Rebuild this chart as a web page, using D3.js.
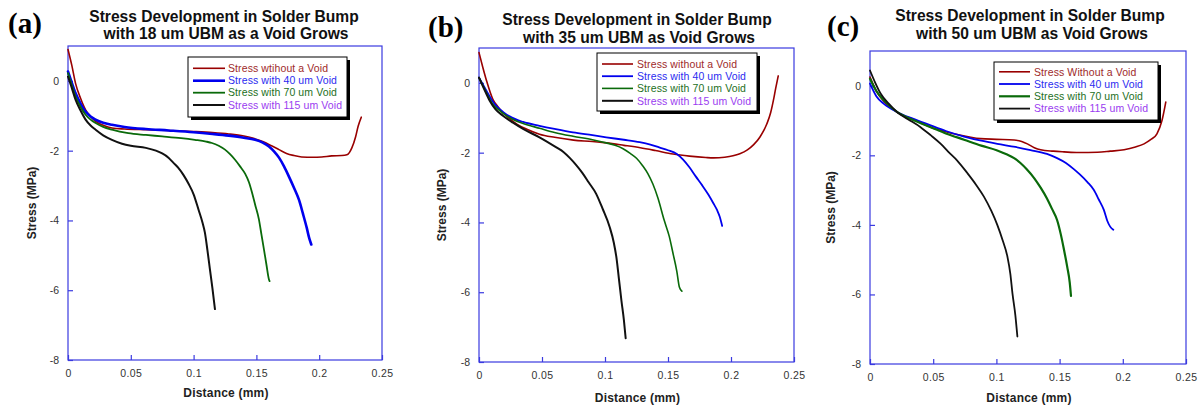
<!DOCTYPE html>
<html><head><meta charset="utf-8">
<script src="https://cdn.jsdelivr.net/npm/d3@7"></script>
<style>html,body{margin:0;padding:0;background:#fff;}svg{display:block;}</style>
</head><body>
<script>
// ---------- DATA ----------
const xTicks = [0, 0.05, 0.1, 0.15, 0.2, 0.25];
const yTicks = [-8, -6, -4, -2, 0];
const xDomain = [0, 0.25];
const yDomain = [-8, 1];
const panelLabels = ["(a)", "(b)", "(c)"];
const titleLine1 = ["Stress Development in Solder Bump", "Stress Development in Solder Bump", "Stress Development in Solder Bump"];
const titleLine2 = ["with 18 um UBM as a Void Grows", "with 35 um UBM as Void Grows", "with 50 um UBM as Void Grows"];
const xLabel = "Distance (mm)";
const yLabel = "Stress (MPa)";
const legendA = ["Stress wtihout a Void", "Stress with 40 um Void", "Stress with 70 um Void", "Stress with 115 um Void"];
const legendB = ["Stress without a Void", "Stress with 40 um Void", "Stress with 70 um Void", "Stress with 115 um Void"];
const legendC = ["Stress Without a Void", "Stress with 40 um Void", "Stress with 70 um Void", "Stress with 115 um Void"];

// Panel (a): 18 um UBM
const aNoVoid = [[0,0.9],[0.003,0.45],[0.006,-0.07],[0.01,-0.5],[0.014,-0.83],[0.018,-1.02],[0.022,-1.16],[0.028,-1.27],[0.035,-1.35],[0.045,-1.38],[0.062,-1.40],[0.08,-1.42],[0.1,-1.45],[0.115,-1.48],[0.128,-1.52],[0.14,-1.58],[0.147,-1.64],[0.155,-1.74],[0.162,-1.86],[0.168,-1.97],[0.174,-2.08],[0.18,-2.14],[0.186,-2.18],[0.195,-2.19],[0.202,-2.18],[0.21,-2.15],[0.218,-2.14],[0.222,-2.12],[0.226,-1.92],[0.229,-1.6],[0.231,-1.3],[0.2335,-1.04]];
const aVoid40 = [[0,0.27],[0.003,-0.05],[0.006,-0.35],[0.01,-0.65],[0.014,-0.88],[0.018,-1.02],[0.022,-1.11],[0.028,-1.2],[0.035,-1.26],[0.045,-1.32],[0.062,-1.38],[0.08,-1.42],[0.1,-1.47],[0.115,-1.52],[0.128,-1.57],[0.14,-1.63],[0.149,-1.69],[0.155,-1.77],[0.16,-1.88],[0.164,-2.02],[0.168,-2.2],[0.172,-2.45],[0.176,-2.75],[0.18,-3.07],[0.184,-3.42],[0.187,-3.8],[0.19,-4.2],[0.192,-4.5],[0.1937,-4.69]];
const aVoid70 = [[0,0.22],[0.003,-0.12],[0.006,-0.45],[0.01,-0.75],[0.014,-0.97],[0.018,-1.11],[0.022,-1.21],[0.028,-1.32],[0.035,-1.40],[0.048,-1.50],[0.062,-1.55],[0.075,-1.59],[0.09,-1.64],[0.101,-1.69],[0.11,-1.74],[0.1146,-1.78],[0.12,-1.86],[0.125,-1.97],[0.129,-2.1],[0.133,-2.26],[0.137,-2.45],[0.141,-2.66],[0.144,-2.9],[0.1465,-3.2],[0.149,-3.55],[0.152,-3.97],[0.154,-4.4],[0.156,-4.83],[0.158,-5.27],[0.16,-5.69],[0.1605,-5.74]];
const aVoid115 = [[0,0.12],[0.003,-0.2],[0.006,-0.54],[0.01,-0.85],[0.014,-1.11],[0.018,-1.28],[0.022,-1.40],[0.028,-1.56],[0.035,-1.69],[0.043,-1.80],[0.05,-1.86],[0.062,-1.92],[0.07,-2.0],[0.075,-2.08],[0.08,-2.2],[0.084,-2.35],[0.088,-2.5],[0.092,-2.7],[0.096,-2.95],[0.1,-3.25],[0.104,-3.7],[0.107,-4.05],[0.109,-4.35],[0.111,-4.85],[0.113,-5.4],[0.115,-5.95],[0.117,-6.54]];

// Panel (b): 35 um UBM
const bNoVoid = [[0,0.87],[0.003,0.45],[0.006,0.06],[0.011,-0.47],[0.015,-0.68],[0.019,-0.85],[0.024,-1.02],[0.03,-1.18],[0.038,-1.33],[0.048,-1.47],[0.06,-1.56],[0.075,-1.64],[0.09,-1.68],[0.101,-1.72],[0.115,-1.79],[0.128,-1.86],[0.14,-1.94],[0.154,-2.04],[0.167,-2.1],[0.18,-2.14],[0.186,-2.15],[0.195,-2.13],[0.2016,-2.09],[0.207,-2.03],[0.213,-1.92],[0.218,-1.77],[0.223,-1.55],[0.2284,-1.18],[0.2315,-0.85],[0.2336,-0.51],[0.2355,-0.15],[0.2375,0.2]];
const bVoid40 = [[0,0.15],[0.003,-0.04],[0.006,-0.23],[0.01,-0.48],[0.0137,-0.66],[0.019,-0.83],[0.0243,-0.96],[0.035,-1.12],[0.048,-1.23],[0.06,-1.32],[0.0746,-1.42],[0.09,-1.5],[0.101,-1.56],[0.115,-1.63],[0.1275,-1.70],[0.136,-1.77],[0.143,-1.85],[0.15,-1.93],[0.157,-2.04],[0.162,-2.2],[0.167,-2.42],[0.172,-2.68],[0.177,-2.93],[0.182,-3.2],[0.186,-3.45],[0.189,-3.65],[0.191,-3.83],[0.193,-4.1]];
const bVoid70 = [[0,0.15],[0.003,-0.07],[0.006,-0.29],[0.011,-0.61],[0.016,-0.78],[0.0217,-0.94],[0.03,-1.1],[0.038,-1.2],[0.048,-1.30],[0.06,-1.42],[0.0746,-1.53],[0.09,-1.63],[0.101,-1.72],[0.108,-1.79],[0.114,-1.88],[0.12,-2.02],[0.125,-2.16],[0.13,-2.38],[0.134,-2.6],[0.138,-2.9],[0.142,-3.3],[0.147,-3.94],[0.151,-4.4],[0.154,-4.89],[0.157,-5.4],[0.159,-5.85],[0.161,-5.97]];
const bVoid115 = [[0,0.15],[0.004,-0.17],[0.0085,-0.51],[0.013,-0.75],[0.019,-0.94],[0.027,-1.14],[0.035,-1.32],[0.048,-1.56],[0.0614,-1.85],[0.067,-1.98],[0.072,-2.15],[0.077,-2.35],[0.082,-2.58],[0.087,-2.85],[0.093,-3.18],[0.098,-3.6],[0.1037,-4.13],[0.107,-4.58],[0.109,-4.99],[0.111,-5.6],[0.113,-6.23],[0.115,-6.8],[0.1164,-7.32]];

// Panel (c): 50 um UBM
const cNoVoid = [[0,0.25],[0.005,-0.15],[0.011,-0.45],[0.0216,-0.76],[0.035,-0.98],[0.048,-1.19],[0.06,-1.32],[0.069,-1.40],[0.0876,-1.52],[0.1,-1.54],[0.114,-1.56],[0.12,-1.6],[0.1245,-1.67],[0.13,-1.78],[0.135,-1.84],[0.145,-1.88],[0.1535,-1.9],[0.165,-1.92],[0.18,-1.91],[0.19,-1.88],[0.201,-1.84],[0.21,-1.76],[0.2168,-1.67],[0.222,-1.55],[0.227,-1.38],[0.231,-1.0],[0.234,-0.47]];
const cVoid40 = [[0,0.06],[0.005,-0.3],[0.011,-0.52],[0.0216,-0.76],[0.035,-0.96],[0.048,-1.14],[0.06,-1.3],[0.0744,-1.46],[0.088,-1.58],[0.1007,-1.67],[0.115,-1.76],[0.127,-1.85],[0.14,-1.96],[0.148,-2.08],[0.155,-2.22],[0.161,-2.39],[0.166,-2.55],[0.172,-2.77],[0.177,-2.99],[0.181,-3.27],[0.185,-3.57],[0.1877,-3.88],[0.19,-4.05],[0.1925,-4.14]];
const cVoid70 = [[0,0.2],[0.005,-0.15],[0.011,-0.42],[0.0216,-0.76],[0.035,-1.0],[0.048,-1.19],[0.06,-1.37],[0.0744,-1.55],[0.088,-1.72],[0.1007,-1.86],[0.108,-1.97],[0.114,-2.08],[0.119,-2.22],[0.124,-2.4],[0.13,-2.66],[0.135,-2.93],[0.14,-3.24],[0.144,-3.54],[0.148,-3.86],[0.151,-4.28],[0.1535,-4.72],[0.156,-5.2],[0.158,-5.65],[0.159,-6.04]];
const cVoid115 = [[0,0.44],[0.004,0.1],[0.0085,-0.23],[0.015,-0.52],[0.0216,-0.76],[0.03,-0.96],[0.04,-1.19],[0.048,-1.42],[0.056,-1.67],[0.062,-1.9],[0.069,-2.15],[0.077,-2.51],[0.084,-2.85],[0.09,-3.18],[0.096,-3.6],[0.1007,-4.0],[0.105,-4.45],[0.1087,-4.91],[0.111,-5.4],[0.1127,-5.97],[0.115,-6.6],[0.1166,-7.21]];

// ---------- STYLE / LAYOUT ----------
const lineColors = ["#990000", "#0000ee", "#0a6a0a", "#111111"];
const textColors = ["#9e2a2a", "#2b2bf0", "#237023", "#9a3cf0"];
const W = 1201, H = 406;

const panels = [
  {series:[aNoVoid,aVoid40,aVoid70,aVoid115], legend:legendA, widths:[1.6,2.6,1.8,2],
   L:68, R:382, T:46, B:360, labelX:8, labelY:33, titleX:224, t1:22, t2:39,
   yLabX:32, xLabY:397, lg:{x0:188, x1:347, y0:57, y1:117, rows:[68.3,80.7,92.7,105], lx0:193, lx1:225, tx:228}},
  {series:[bNoVoid,bVoid40,bVoid70,bVoid115], legend:legendB, widths:[1.6,1.8,1.6,2],
   L:479, R:794, T:48, B:362, labelX:428, labelY:37, titleX:637, t1:25, t2:43,
   yLabX:442, xLabY:402, lg:{x0:597, x1:757, y0:53, y1:111, rows:[64,76.2,88.4,100.8], lx0:602, lx1:633, tx:637}},
  {series:[cNoVoid,cVoid40,cVoid70,cVoid115], legend:legendC, widths:[1.6,1.8,2.2,1.8],
   L:870, R:1186, T:51, B:364, labelX:827, labelY:36, titleX:1030, t1:21, t2:39,
   yLabX:831, xLabY:402, lg:{x0:994, x1:1158, y0:62, y1:120, rows:[71.8,84,96.3,108.6], lx0:999, lx1:1030, tx:1034}}
];

const frameColor = "#3a3ae0";
const svg = d3.select("body").append("svg").attr("width", W).attr("height", H);
svg.append("rect").attr("width", W).attr("height", H).attr("fill", "#fff");

panels.forEach((p, i) => {
  const g = svg.append("g");
  const x = d3.scaleLinear().domain(xDomain).range([p.L, p.R]);
  const y = d3.scaleLinear().domain(yDomain).range([p.B, p.T]);

  // panel letter
  g.append("text").attr("x", p.labelX).attr("y", p.labelY)
    .attr("font-family", "'Liberation Serif','Times New Roman',serif").attr("font-weight", "bold")
    .attr("font-size", 29).attr("fill", "#000").text(panelLabels[i]);

  // title
  const tf = "'Liberation Sans',Arial,sans-serif";
  g.append("text").attr("x", p.titleX).attr("y", p.t1).attr("text-anchor", "middle")
    .attr("font-family", tf).attr("font-weight", "bold").attr("font-size", 15.6).attr("fill", "#111").text(titleLine1[i]);
  g.append("text").attr("x", p.titleX + 2).attr("y", p.t2).attr("text-anchor", "middle")
    .attr("font-family", tf).attr("font-weight", "bold").attr("font-size", 15.6).attr("fill", "#111").text(titleLine2[i]);

  // frame
  g.append("rect").attr("x", p.L).attr("y", p.T).attr("width", p.R - p.L).attr("height", p.B - p.T)
    .attr("fill", "none").attr("stroke", frameColor).attr("stroke-width", 1.2);

  // x axis
  const xa = g.append("g").attr("transform", `translate(0,${p.B})`)
    .call(d3.axisBottom(x).tickValues(xTicks).tickSizeInner(-5).tickSizeOuter(0).tickPadding(10).tickFormat(d => String(d)));
  xa.select(".domain").remove();
  xa.selectAll("line").attr("stroke", frameColor).attr("stroke-width", 1.2);
  xa.selectAll("text").attr("font-family", tf).attr("font-size", 10.5).attr("fill", "#333").attr("letter-spacing", 0.4);

  // y axis
  const ya = g.append("g").attr("transform", `translate(${p.L},0)`)
    .call(d3.axisLeft(y).tickValues(yTicks).tickSizeInner(-5).tickSizeOuter(0).tickPadding(9).tickFormat(d => String(d)));
  ya.select(".domain").remove();
  ya.selectAll("line").attr("stroke", frameColor).attr("stroke-width", 1.2);
  ya.selectAll("text").attr("font-family", tf).attr("font-size", 10.5).attr("fill", "#333");

  // axis labels
  g.append("text").attr("x", (p.L + p.R) / 2 + 1).attr("y", p.xLabY).attr("text-anchor", "middle")
    .attr("font-family", tf).attr("font-weight", "bold").attr("font-size", 12).attr("fill", "#222")
    .attr("letter-spacing", 0.2).text(xLabel);
  g.append("text").attr("transform", `translate(${p.yLabX + 4},${(p.T + p.B) / 2}) rotate(-90)`)
    .attr("text-anchor", "middle").attr("font-family", tf).attr("font-weight", "bold").attr("font-size", 12)
    .attr("fill", "#222").text(yLabel);

  // curves
  const line = d3.line().x(d => x(d[0])).y(d => y(d[1])).curve(d3.curveMonotoneX);
  p.series.forEach((s, k) => {
    g.append("path").datum(s).attr("d", line).attr("fill", "none")
      .attr("stroke", lineColors[k]).attr("stroke-width", p.widths[k])
      .attr("stroke-linejoin", "round").attr("stroke-linecap", "round");
  });

  // legend
  const lg = p.lg;
  g.append("rect").attr("x", lg.x0 + 3).attr("y", lg.y0 + 3).attr("width", lg.x1 - lg.x0).attr("height", lg.y1 - lg.y0).attr("fill", "#000");
  g.append("rect").attr("x", lg.x0).attr("y", lg.y0).attr("width", lg.x1 - lg.x0).attr("height", lg.y1 - lg.y0)
    .attr("fill", "#fff").attr("stroke", "#000").attr("stroke-width", 1);
  p.legend.forEach((t, k) => {
    g.append("line").attr("x1", lg.lx0).attr("x2", lg.lx1).attr("y1", lg.rows[k]).attr("y2", lg.rows[k])
      .attr("stroke", lineColors[k]).attr("stroke-width", p.widths[k]);
    g.append("text").attr("x", lg.tx).attr("y", lg.rows[k]).attr("dy", "0.36em")
      .attr("font-family", tf).attr("font-size", 10.5).attr("letter-spacing", 0.1)
      .attr("fill", textColors[k]).text(t);
  });
});
</script>
</body></html>
